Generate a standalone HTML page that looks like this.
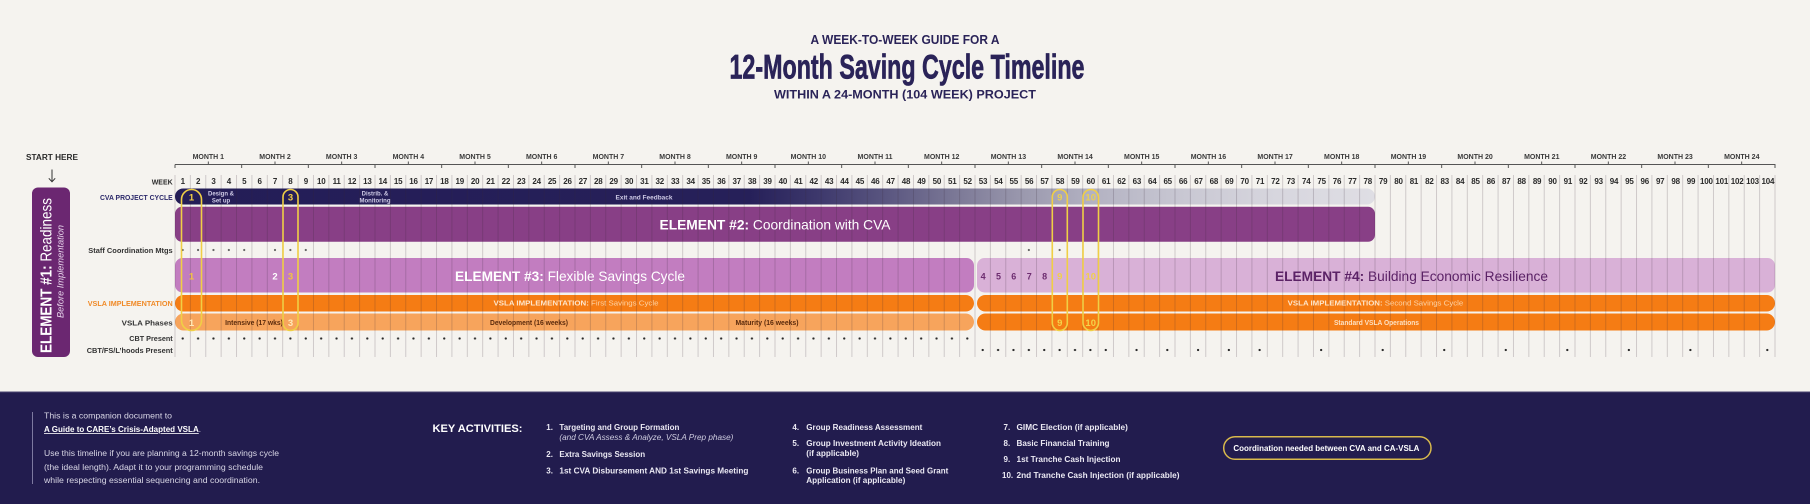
<!DOCTYPE html>
<html><head><meta charset="utf-8">
<style>
html,body{margin:0;padding:0}
body{width:1810px;height:504px;background:#f5f3ef;position:relative;overflow:hidden;font-family:"Liberation Sans",sans-serif}
svg{position:absolute;left:0;top:0}
.row{position:absolute;display:flex;left:175px;width:1600px}
.row span{flex:1 1 0;text-align:center;white-space:nowrap;overflow:visible}
.wk{top:177px;height:10px;font-size:8px;line-height:10px;font-weight:bold;color:#2b2b2b;letter-spacing:-0.2px}
.mo{top:152.5px;height:9px;font-size:7px;line-height:9px;font-weight:bold;color:#3a3a3a}
</style></head><body>
<svg width="1810" height="504" viewBox="0 0 1810 504" xmlns="http://www.w3.org/2000/svg" font-family="'Liberation Sans', sans-serif">
<defs>
 <linearGradient id="cva" gradientUnits="userSpaceOnUse" x1="175" y1="0" x2="1375" y2="0">
  <stop offset="0" stop-color="#241d57"/>
  <stop offset="0.479" stop-color="#262059"/>
  <stop offset="0.536" stop-color="#3d386c"/>
  <stop offset="0.593" stop-color="#5a5680"/>
  <stop offset="0.65" stop-color="#7b7896"/>
  <stop offset="0.7075" stop-color="#9b99ae"/>
  <stop offset="0.765" stop-color="#b3b2c2"/>
  <stop offset="0.842" stop-color="#c9c8d3"/>
  <stop offset="0.918" stop-color="#d7d6de"/>
  <stop offset="1" stop-color="#dfdee4"/>
 </linearGradient>
 <pattern id="grid" patternUnits="userSpaceOnUse" x="174.5" y="0" width="15.3846" height="20"><rect x="0" y="0" width="1" height="20" fill="rgba(50,35,50,0.2)"/></pattern>
 <pattern id="mt" patternUnits="userSpaceOnUse" x="174.5" y="161" width="66.6667" height="8"><rect x="0" y="3.5" width="1" height="3.5" fill="#555"/><rect x="33.33" y="0.5" width="1" height="3" fill="#555"/></pattern>
 <pattern id="d1" patternUnits="userSpaceOnUse" x="175" y="336" width="15.3846" height="5"><circle cx="7.692" cy="2.5" r="1.15" fill="#2a2a2a"/></pattern>
 <pattern id="d2" patternUnits="userSpaceOnUse" x="175" y="347.5" width="15.3846" height="5"><circle cx="7.692" cy="2.5" r="1.15" fill="#2a2a2a"/></pattern>
</defs>

<!-- Title -->
<text x="905" y="44" text-anchor="middle" font-size="12.5" font-weight="700" fill="#2a2358" textLength="189" lengthAdjust="spacingAndGlyphs">A WEEK-TO-WEEK GUIDE FOR A</text>
<text x="907" y="78.5" text-anchor="middle" font-size="34" font-weight="700" fill="#2a2358" stroke="#2a2358" stroke-width="0.7" font-family="'Liberation Sans Narrow','Liberation Sans',sans-serif" textLength="355" lengthAdjust="spacingAndGlyphs">12-Month Saving Cycle Timeline</text>
<text x="905" y="98.5" text-anchor="middle" font-size="12" font-weight="700" fill="#2a2358" textLength="262" lengthAdjust="spacingAndGlyphs">WITHIN A 24-MONTH (104 WEEK) PROJECT</text>

<!-- Start here -->
<text x="52" y="160" text-anchor="middle" font-size="8" font-weight="700" fill="#2a2a2a" textLength="52" lengthAdjust="spacingAndGlyphs">START HERE</text>
<path d="M52 169.5V181.5 M48.8 178.3L52 181.8L55.2 178.3" stroke="#333" stroke-width="1" fill="none"/>

<!-- Element 1 -->
<rect x="32" y="187.5" width="38" height="169.5" rx="6" fill="#6b2771"/>
<text transform="translate(51.5,275.5) rotate(-90)" text-anchor="middle" font-size="15.5" fill="#fff" textLength="155" lengthAdjust="spacingAndGlyphs"><tspan font-weight="700">ELEMENT #1:</tspan> Readiness</text>
<text transform="translate(63.5,271.5) rotate(-90)" text-anchor="middle" font-size="9" font-style="italic" fill="#e6d3ea" textLength="93" lengthAdjust="spacingAndGlyphs">Before Implementation</text>

<!-- Month bracket -->
<path d="M175 164.5H1775.5" stroke="#555" stroke-width="1"/>
<rect x="174.5" y="161" width="1602" height="8" fill="url(#mt)"/>

<!-- Row labels -->
<g font-weight="700" font-size="7.5" text-anchor="end" font-family="'Liberation Sans Narrow','Liberation Sans',sans-serif">
 <text x="172.7" y="184.7" fill="#2b2b2b" textLength="21" lengthAdjust="spacingAndGlyphs">WEEK</text>
 <text x="172.7" y="199.8" fill="#2d2a6b" textLength="72.7" lengthAdjust="spacingAndGlyphs">CVA PROJECT CYCLE</text>
 <text x="172.7" y="253" fill="#333" textLength="84.4" lengthAdjust="spacingAndGlyphs">Staff Coordination Mtgs</text>
 <text x="172.7" y="306" fill="#f08a28" textLength="85" lengthAdjust="spacingAndGlyphs">VSLA IMPLEMENTATION</text>
 <text x="172.7" y="325.5" fill="#333" textLength="51" lengthAdjust="spacingAndGlyphs">VSLA Phases</text>
 <text x="172.7" y="341" fill="#333" textLength="43.4" lengthAdjust="spacingAndGlyphs">CBT Present</text>
 <text x="172.7" y="353" fill="#333" textLength="86" lengthAdjust="spacingAndGlyphs">CBT/FS/L’hoods Present</text>
</g>

<!-- Bars -->
<rect x="175" y="188.5" width="1200" height="16" rx="8" fill="url(#cva)"/>
<rect x="175" y="206.8" width="1200" height="35" rx="7" fill="#883f86"/>
<rect x="175" y="258" width="799" height="34.5" rx="7.5" fill="#c27dc0"/>
<rect x="977" y="258" width="798" height="34.5" rx="7.5" fill="#d9b1d7"/>
<rect x="175" y="295" width="799" height="16.5" rx="8.25" fill="#f57c14"/>
<rect x="977" y="295" width="798" height="16.5" rx="8.25" fill="#f57c14"/>
<rect x="175" y="313.5" width="799" height="17" rx="8.5" fill="#f7a45c"/>
<rect x="977" y="313.5" width="798" height="17" rx="8.5" fill="#f57c14"/>

<!-- Grid lines -->
<rect x="174.5" y="175" width="1601.5" height="182" fill="url(#grid)"/>

<!-- CVA bar text -->
<g font-size="6" font-weight="700" fill="#cfcbe6" text-anchor="middle">
 <text x="221" y="195.5">Design &amp;</text>
 <text x="221" y="202.5">Set up</text>
 <text x="375" y="195.5">Distrib. &amp;</text>
 <text x="375" y="202.5">Monitoring</text>
 <text x="644" y="199.3" font-size="6.5" textLength="57" lengthAdjust="spacingAndGlyphs">Exit and Feedback</text>
</g>

<!-- Element texts -->
<text x="775" y="229.5" text-anchor="middle" font-size="14" fill="#fff" textLength="231" lengthAdjust="spacingAndGlyphs"><tspan font-weight="700">ELEMENT #2:</tspan> Coordination with CVA</text>
<text x="570" y="281" text-anchor="middle" font-size="14" fill="#fff" textLength="230" lengthAdjust="spacingAndGlyphs"><tspan font-weight="700">ELEMENT #3:</tspan> Flexible Savings Cycle</text>
<text x="1411.5" y="281" text-anchor="middle" font-size="14" fill="#5b2266" textLength="273" lengthAdjust="spacingAndGlyphs"><tspan font-weight="700">ELEMENT #4:</tspan> Building Economic Resilience</text>

<!-- VSLA implementation texts -->
<text x="576" y="305.5" text-anchor="middle" font-size="7" textLength="165" lengthAdjust="spacingAndGlyphs"><tspan font-weight="700" fill="#fde6cc">VSLA IMPLEMENTATION:</tspan><tspan fill="#fcd3a6"> First Savings Cycle</tspan></text>
<text x="1375.5" y="305.5" text-anchor="middle" font-size="7" textLength="175.6" lengthAdjust="spacingAndGlyphs"><tspan font-weight="700" fill="#fde6cc">VSLA IMPLEMENTATION:</tspan><tspan fill="#fcd3a6"> Second Savings Cycle</tspan></text>

<!-- Phases texts -->
<g font-size="7" font-weight="700" text-anchor="middle" fill="#5a2a0c">
 <text x="254" y="325" textLength="57.7" lengthAdjust="spacingAndGlyphs">Intensive (17 wks)</text>
 <text x="529" y="325" textLength="78" lengthAdjust="spacingAndGlyphs">Development (16 weeks)</text>
 <text x="767" y="325" textLength="63" lengthAdjust="spacingAndGlyphs">Maturity (16 weeks)</text>
 <text x="1376.5" y="325" fill="#fde0c0" textLength="85" lengthAdjust="spacingAndGlyphs">Standard VSLA Operations</text>
</g>

<!-- Staff dots -->
<g fill="#666">
 <circle cx="182.69" cy="250" r="1.1"/><circle cx="198.08" cy="250" r="1.1"/><circle cx="213.46" cy="250" r="1.1"/><circle cx="228.85" cy="250" r="1.1"/><circle cx="244.23" cy="250" r="1.1"/><circle cx="275" cy="250" r="1.1"/><circle cx="290.38" cy="250" r="1.1"/><circle cx="305.77" cy="250" r="1.1"/><circle cx="1028.85" cy="250" r="1.1"/><circle cx="1059.62" cy="250" r="1.1"/>
</g>

<!-- CBT dots -->
<rect x="175" y="336" width="800" height="5" fill="url(#d1)"/>
<rect x="975" y="347.5" width="138.46" height="5" fill="url(#d2)"/>
<g fill="#2a2a2a">
 <circle cx="1136.54" cy="350" r="1.15"/><circle cx="1167.31" cy="350" r="1.15"/><circle cx="1198.08" cy="350" r="1.15"/><circle cx="1228.85" cy="350" r="1.15"/><circle cx="1259.62" cy="350" r="1.15"/><circle cx="1321.15" cy="350" r="1.15"/><circle cx="1382.69" cy="350" r="1.15"/><circle cx="1444.23" cy="350" r="1.15"/><circle cx="1505.77" cy="350" r="1.15"/><circle cx="1567.31" cy="350" r="1.15"/><circle cx="1628.85" cy="350" r="1.15"/><circle cx="1690.38" cy="350" r="1.15"/><circle cx="1767.31" cy="350" r="1.15"/>
</g>

<!-- Coordination capsules -->
<g fill="none" stroke="#f0cf45" stroke-width="1.6">
 <rect x="181.5" y="189.5" width="20" height="141" rx="10"/>
 <rect x="283" y="189.5" width="15" height="141" rx="7.5"/>
 <rect x="1052.3" y="189.5" width="15" height="141" rx="7.5"/>
 <rect x="1083" y="189.5" width="15.5" height="141" rx="7.75"/>
</g>

<!-- Numbers -->
<g font-size="9.5" font-weight="700" text-anchor="middle">
 <text x="191.5" y="200.5" fill="#f2cf45">1</text>
 <text x="290.5" y="200.5" fill="#f2cf45">3</text>
 <text x="1059.8" y="200.5" fill="#e8cf55">9</text>
 <text x="1090.7" y="200.5" fill="#e8cf55">10</text>
 <text x="191.5" y="279.5" fill="#f3c440">1</text>
 <text x="275" y="279.5" fill="#ffffff">2</text>
 <text x="290.5" y="279.5" fill="#f3c440">3</text>
 <g fill="#6d2d70" font-size="9">
  <text x="983.1" y="279.5">4</text><text x="998.5" y="279.5">5</text><text x="1013.8" y="279.5">6</text><text x="1029.2" y="279.5">7</text><text x="1044.6" y="279.5">8</text>
 </g>
 <text x="1059.8" y="279.5" fill="#f0d04a">9</text>
 <text x="1090.7" y="279.5" fill="#f0d04a">10</text>
 <text x="191.5" y="326" fill="#ffeab8">1</text>
 <text x="290.5" y="326" fill="#ffeab8">3</text>
 <text x="1059.8" y="326" fill="#f4d44a">9</text>
 <text x="1090.7" y="326" fill="#f4d44a">10</text>
</g>

<!-- Footer -->
<rect x="0" y="392" width="1810" height="112" fill="#221c4e"/>
<rect x="0" y="391.5" width="1810" height="1" fill="#4a4470"/>
<path d="M32.5 412V484" stroke="#7d79a0" stroke-width="1"/>
<g font-size="8" fill="#d9d7e6">
 <text x="44" y="418.5" textLength="128" lengthAdjust="spacingAndGlyphs">This is a companion document to</text>
 <text x="44" y="432" textLength="157" lengthAdjust="spacingAndGlyphs"><tspan font-weight="700" text-decoration="underline" fill="#ffffff">A Guide to CARE’s Crisis-Adapted VSLA</tspan>.</text>
 <text x="44" y="456" textLength="235" lengthAdjust="spacingAndGlyphs">Use this timeline if you are planning a 12-month savings cycle</text>
 <text x="44" y="470" textLength="219" lengthAdjust="spacingAndGlyphs">(the ideal length). Adapt it to your programming schedule</text>
 <text x="44" y="483" textLength="216" lengthAdjust="spacingAndGlyphs">while respecting essential sequencing and coordination.</text>
</g>
<text x="432.5" y="432" font-size="11" font-weight="700" fill="#ffffff" textLength="90" lengthAdjust="spacingAndGlyphs">KEY ACTIVITIES:</text>
<g font-size="8" font-weight="700" fill="#ebe9f3" font-family="'Liberation Sans Narrow','Liberation Sans',sans-serif">
 <text x="546.3" y="430">1.</text>
 <text x="559.4" y="430" textLength="120" lengthAdjust="spacingAndGlyphs">Targeting and Group Formation</text>
 <text x="559.4" y="440" font-weight="400" font-style="italic" fill="#cfcde0" textLength="174" lengthAdjust="spacingAndGlyphs">(and CVA Assess &amp; Analyze, VSLA Prep phase)</text>
 <text x="546.3" y="457">2.</text>
 <text x="559.4" y="457" textLength="85.7" lengthAdjust="spacingAndGlyphs">Extra Savings Session</text>
 <text x="546.3" y="473.5">3.</text>
 <text x="559.4" y="473.5" textLength="189" lengthAdjust="spacingAndGlyphs">1st CVA Disbursement AND 1st Savings Meeting</text>

 <text x="792.4" y="430">4.</text>
 <text x="806.3" y="430" textLength="116" lengthAdjust="spacingAndGlyphs">Group Readiness Assessment</text>
 <text x="792.4" y="446">5.</text>
 <text x="806.3" y="446" textLength="134.7" lengthAdjust="spacingAndGlyphs">Group Investment Activity Ideation</text>
 <text x="806.3" y="456" textLength="52.7" lengthAdjust="spacingAndGlyphs">(if applicable)</text>
 <text x="792.4" y="473.5">6.</text>
 <text x="806.3" y="473.5" textLength="142" lengthAdjust="spacingAndGlyphs">Group Business Plan and Seed Grant</text>
 <text x="806.3" y="483" textLength="99" lengthAdjust="spacingAndGlyphs">Application (if applicable)</text>

 <text x="1003.5" y="430">7.</text>
 <text x="1016.5" y="430" textLength="111.4" lengthAdjust="spacingAndGlyphs">GIMC Election (if applicable)</text>
 <text x="1003.5" y="446">8.</text>
 <text x="1016.5" y="446" textLength="93" lengthAdjust="spacingAndGlyphs">Basic Financial Training</text>
 <text x="1003.5" y="462">9.</text>
 <text x="1016.5" y="462" textLength="104" lengthAdjust="spacingAndGlyphs">1st Tranche Cash Injection</text>
 <text x="1002" y="478">10.</text>
 <text x="1016.5" y="478" textLength="163" lengthAdjust="spacingAndGlyphs">2nd Tranche Cash Injection (if applicable)</text>
</g>
<rect x="1223.7" y="436.7" width="207.3" height="22.6" rx="11.3" fill="none" stroke="#d8b94c" stroke-width="1.5"/>
<text x="1326.4" y="451" text-anchor="middle" font-size="8" font-weight="700" fill="#ffffff" font-family="'Liberation Sans Narrow','Liberation Sans',sans-serif" textLength="186" lengthAdjust="spacingAndGlyphs">Coordination needed between CVA and CA-VSLA</text>
</svg>

<div class="row mo"><span>MONTH 1</span><span>MONTH 2</span><span>MONTH 3</span><span>MONTH 4</span><span>MONTH 5</span><span>MONTH 6</span><span>MONTH 7</span><span>MONTH 8</span><span>MONTH 9</span><span>MONTH 10</span><span>MONTH 11</span><span>MONTH 12</span><span>MONTH 13</span><span>MONTH 14</span><span>MONTH 15</span><span>MONTH 16</span><span>MONTH 17</span><span>MONTH 18</span><span>MONTH 19</span><span>MONTH 20</span><span>MONTH 21</span><span>MONTH 22</span><span>MONTH 23</span><span>MONTH 24</span></div>

<div class="row wk"><span>1</span><span>2</span><span>3</span><span>4</span><span>5</span><span>6</span><span>7</span><span>8</span><span>9</span><span>10</span><span>11</span><span>12</span><span>13</span><span>14</span><span>15</span><span>16</span><span>17</span><span>18</span><span>19</span><span>20</span><span>21</span><span>22</span><span>23</span><span>24</span><span>25</span><span>26</span><span>27</span><span>28</span><span>29</span><span>30</span><span>31</span><span>32</span><span>33</span><span>34</span><span>35</span><span>36</span><span>37</span><span>38</span><span>39</span><span>40</span><span>41</span><span>42</span><span>43</span><span>44</span><span>45</span><span>46</span><span>47</span><span>48</span><span>49</span><span>50</span><span>51</span><span>52</span><span>53</span><span>54</span><span>55</span><span>56</span><span>57</span><span>58</span><span>59</span><span>60</span><span>61</span><span>62</span><span>63</span><span>64</span><span>65</span><span>66</span><span>67</span><span>68</span><span>69</span><span>70</span><span>71</span><span>72</span><span>73</span><span>74</span><span>75</span><span>76</span><span>77</span><span>78</span><span>79</span><span>80</span><span>81</span><span>82</span><span>83</span><span>84</span><span>85</span><span>86</span><span>87</span><span>88</span><span>89</span><span>90</span><span>91</span><span>92</span><span>93</span><span>94</span><span>95</span><span>96</span><span>97</span><span>98</span><span>99</span><span>100</span><span>101</span><span>102</span><span>103</span><span>104</span></div>
</body></html>
